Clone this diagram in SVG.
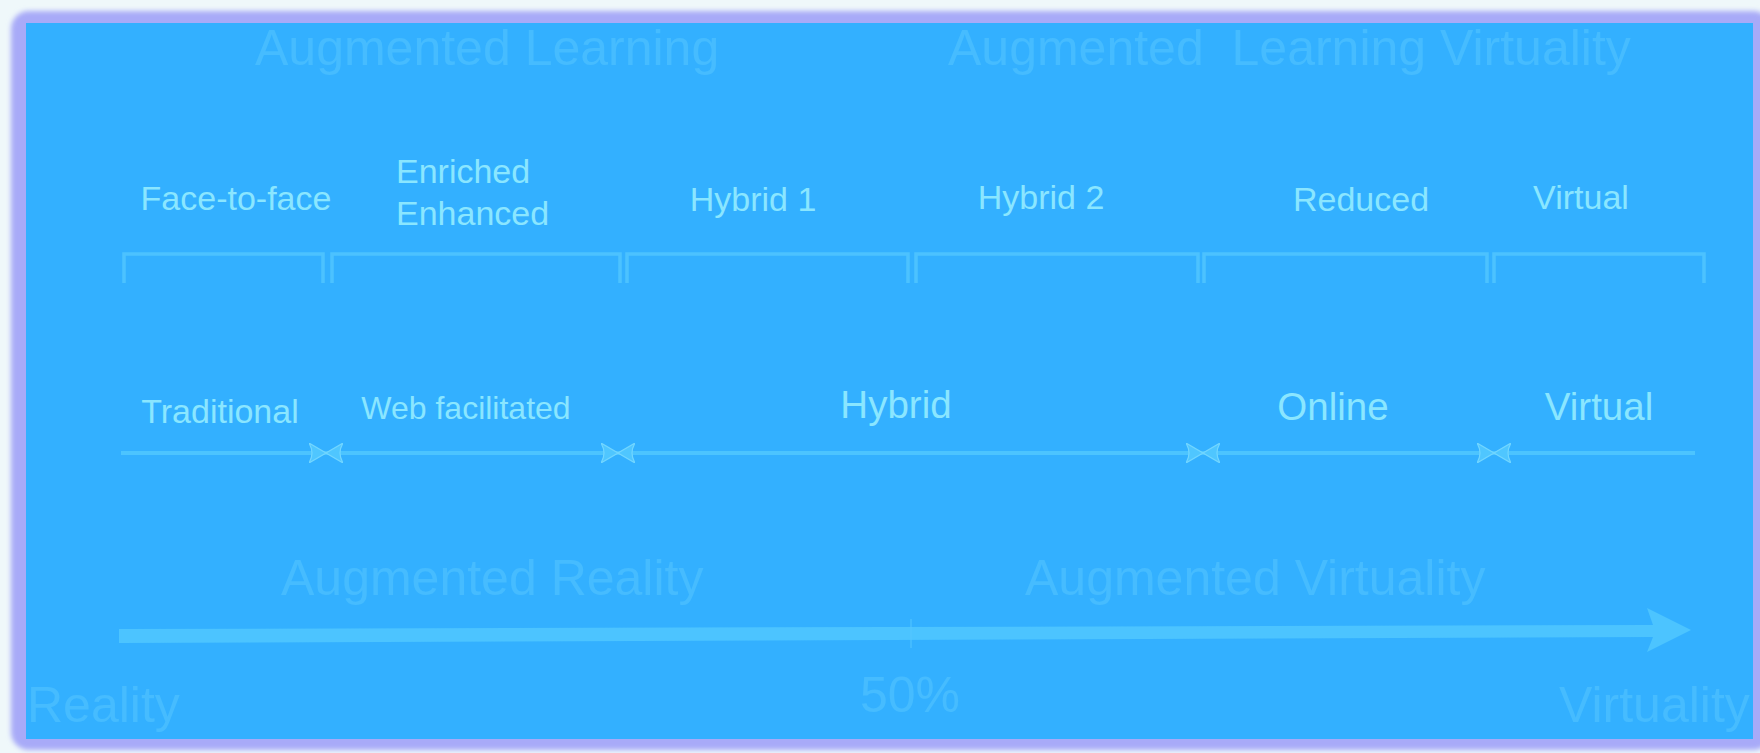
<svg xmlns="http://www.w3.org/2000/svg" width="1760" height="753" viewBox="0 0 1760 753">
<defs>
<style>
.faint{font-family:"Liberation Sans",Arial,sans-serif;font-size:50px;fill:#46bcff;white-space:pre}
.lbl{font-family:"Liberation Sans",Arial,sans-serif;font-size:34px;fill:#8ae6ff}
.mid{font-family:"Liberation Sans",Arial,sans-serif;font-size:38.5px;fill:#8ae6ff;text-anchor:middle}
.brk{fill:none;stroke:#4cc2ff;stroke-width:3.5}
.seg{stroke:#4cc4ff;stroke-width:4;fill:none}
</style>
<filter id="blur" x="-5%" y="-5%" width="110%" height="110%"><feGaussianBlur stdDeviation="2.5"/></filter>
<marker id="bow" viewBox="0 0 17 20" refX="17" refY="10" markerWidth="17" markerHeight="20" markerUnits="userSpaceOnUse" orient="auto-start-reverse">
<path d="M0,0 L17,10 L0,20 Q6,10 0,0 Z" fill="#4fc6ff" stroke="#72d6ff" stroke-width="1.2"/>
</marker>
<clipPath id="panel"><rect x="26" y="23" width="1727" height="716"/></clipPath>
</defs>
<rect x="0" y="0" width="1760" height="753" fill="#eff8fa"/>
<rect x="11" y="11" width="1760" height="739" rx="18" fill="#a8aaf8" filter="url(#blur)"/>
<rect x="26" y="23" width="1727" height="716" fill="#33b0ff"/>

<g id="titles" clip-path="url(#panel)">
<text class="faint" x="255" y="65">Augmented Learning</text>
<text class="faint" x="948" y="65">Augmented  Learning Virtuality</text>
<text class="faint" x="281" y="595">Augmented Reality</text>
<text class="faint" x="1025" y="595">Augmented Virtuality</text>
<text class="faint" x="27" y="722">Reality</text>
<text class="faint" x="910" y="712" text-anchor="middle">50%</text>
<text class="faint" x="1559" y="722">Virtuality</text>
</g>

<g id="top-face-to-face"><path class="brk" d="M124,283 V254 H323 V283"/><text class="lbl" x="236" y="210" text-anchor="middle">Face-to-face</text></g>
<g id="top-enriched"><path class="brk" d="M332,283 V254 H620 V283"/><text class="lbl" x="396" y="183">Enriched</text><text class="lbl" x="396" y="225">Enhanced</text></g>
<g id="top-hybrid1"><path class="brk" d="M627,283 V254 H908 V283"/><text class="lbl" x="753" y="211" text-anchor="middle">Hybrid 1</text></g>
<g id="top-hybrid2"><path class="brk" d="M916,283 V254 H1198 V283"/><text class="lbl" x="1041" y="209" text-anchor="middle">Hybrid 2</text></g>
<g id="top-reduced"><path class="brk" d="M1204,283 V254 H1487 V283"/><text class="lbl" x="1361" y="211" text-anchor="middle">Reduced</text></g>
<g id="top-virtual"><path class="brk" d="M1494,283 V254 H1704 V283"/><text class="lbl" x="1581" y="209" text-anchor="middle">Virtual</text></g>

<g id="connectors">
<line class="seg" x1="121" y1="453" x2="326" y2="453" marker-end="url(#bow)"/>
<line class="seg" x1="326" y1="453" x2="618" y2="453" marker-start="url(#bow)" marker-end="url(#bow)"/>
<line class="seg" x1="618" y1="453" x2="1203" y2="453" marker-start="url(#bow)" marker-end="url(#bow)"/>
<line class="seg" x1="1203" y1="453" x2="1494" y2="453" marker-start="url(#bow)" marker-end="url(#bow)"/>
<line class="seg" x1="1494" y1="453" x2="1695" y2="453" marker-start="url(#bow)"/>
<path d="M119,629 L1653,625 L1647,608 L1691,630 L1647,652 L1653,637 L119,643 Z" fill="#4cc4ff"/>
<line x1="911" y1="619" x2="911" y2="648" stroke="#55c6ff" stroke-width="1"/>
</g>

<g id="mid-traditional"><text class="lbl" x="220" y="423" text-anchor="middle">Traditional</text></g>
<g id="mid-web"><text class="lbl" x="466" y="419" text-anchor="middle" style="font-size:32px">Web facilitated</text></g>
<g id="mid-hybrid"><text class="mid" x="896" y="418">Hybrid</text></g>
<g id="mid-online"><text class="mid" x="1333" y="420">Online</text></g>
<g id="mid-virtual"><text class="mid" x="1599" y="420">Virtual</text></g>
</svg>
